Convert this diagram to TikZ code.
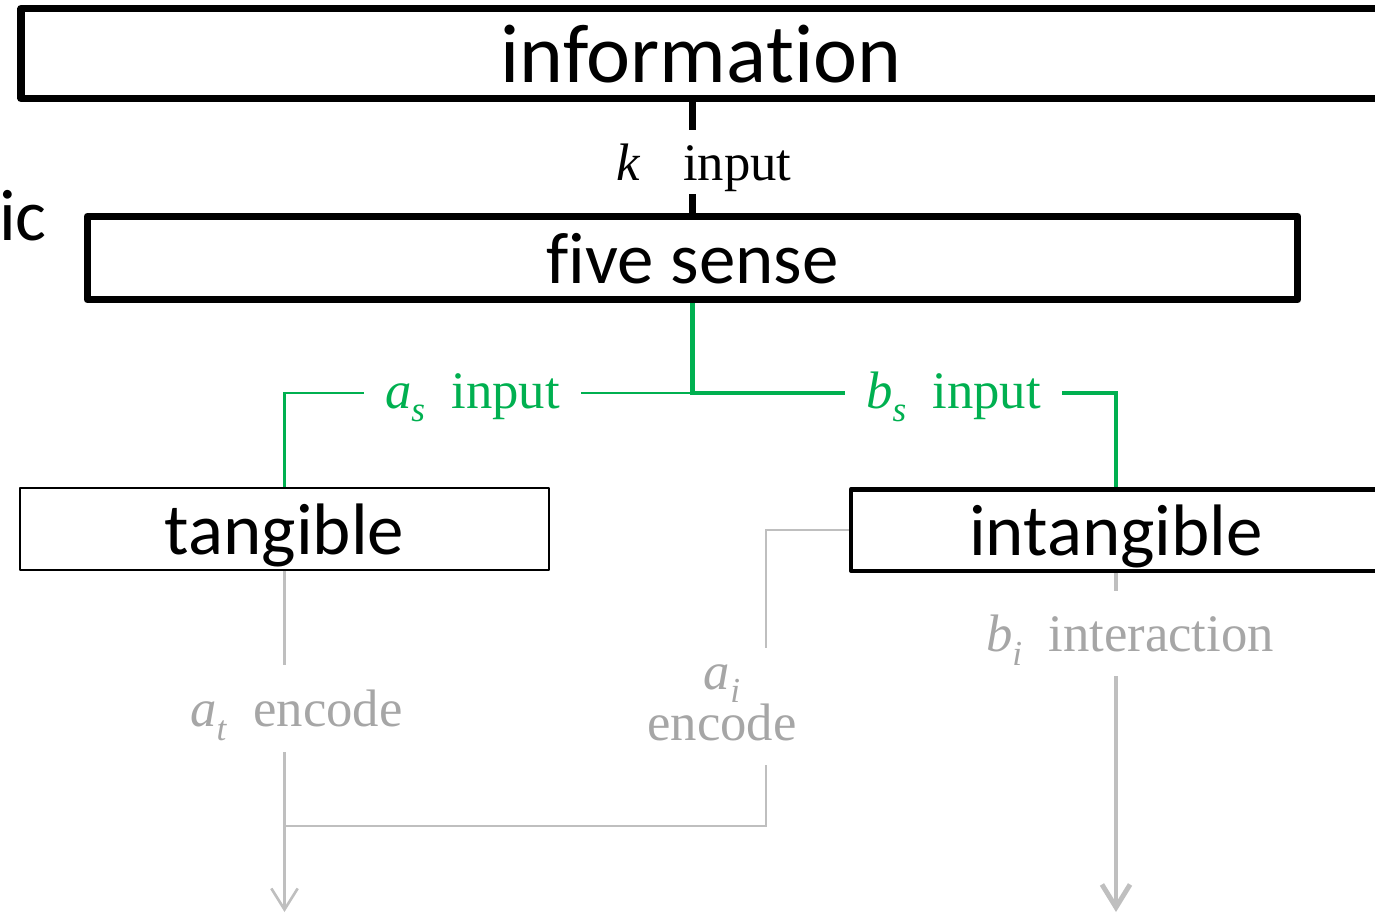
\documentclass[tikz,border=0pt]{standalone}
\usepackage{fontspec}
\setmainfont{Liberation Serif}
\newfontfamily\boxfont[Ligatures={NoCommon,NoRare,NoContextual}]{Carlito}
\usetikzlibrary{arrows.meta}
\definecolor{senseGreen}{HTML}{00B050}
\definecolor{lineGray}{HTML}{BFBFBF}
\definecolor{textGray}{HTML}{A6A6A6}
\newcommand\sbs[2]{\textit{#1}\raisebox{-0.26em}{\fontsize{20}{20}\selectfont\textit{#2}}}
\tikzset{
  sensebox/.style={draw, rectangle, line join=round, inner sep=0pt, text depth=0pt,
    font=\boxfont\fontsize{41.5}{41.5}\selectfont},
  lbl/.style={inner xsep=12pt, inner ysep=1.4pt, text height=27pt, text depth=6.6pt,
    font=\fontsize{30}{27}\selectfont},
  kline/.style={line width=3.6pt},
  gthin/.style={senseGreen, line width=1.3pt},
  gthick/.style={senseGreen, line width=2.6pt},
  gline/.style={lineGray, line width=1.5pt},
  gbold/.style={lineGray, line width=2.8pt},
  gtip/.style={-{Straight Barb[length=12pt,width=15pt]}},
  gtipbold/.style={-{Straight Barb[length=13pt,width=16pt]}}
}

\begin{document}
\begin{tikzpicture}[x=0.02cm,y=-0.02cm]
\useasboundingbox (0,0) rectangle (1375,914);

% boxes
\node [sensebox, line width=4.25pt, minimum width=27.2cm, minimum height=1.8cm,
  font=\boxfont\fontsize{47.5}{47.5}\selectfont] (info) at (701,53.5) {informa\kern0pt t\kern0pt ion};
\node [sensebox, line width=4pt, minimum width=24.22cm, minimum height=1.67cm] (five) at (692.5,258) {f\kern0pt ive sense};
\node [sensebox, line width=1.25pt, minimum width=10.58cm, minimum height=1.63cm] (tang) at (284.5,529) {tangible};
\node [sensebox, line width=2.55pt, minimum width=10.6cm, minimum height=1.63cm] (intan) at (1116,530) {intangible};
\node [anchor=base east, inner sep=0pt, font=\boxfont\fontsize{41.5}{41.5}\selectfont] (ic) at (47,240) {ic};

% labels
\node [lbl, anchor=base] (kin) at (704,180) {\textit{k}\hspace{0.8em}input};
\node [lbl, senseGreen, anchor=base] (asin) at (472.5,408) {\sbs{a}{s}\hspace{0.5em}input};
\node [lbl, senseGreen, anchor=base] (bsin) at (953.5,408) {\sbs{b}{s}\hspace{0.5em}input};
\node [lbl, textGray, anchor=base, inner ysep=7.8pt] (atin) at (296.5,726.7) {\sbs{a}{t}\hspace{0.5em}encode};
\node [lbl, textGray, anchor=base, inner ysep=7.3pt] (biin) at (1130,651.7) {\sbs{b}{i}\hspace{0.5em}interaction};
\node [lbl, textGray, anchor=base, inner ysep=6.2pt, text height=46pt, text depth=8.1pt] (aiin) at (722,740)
  {\begin{tabular}[b]{@{}c@{}}\sbs{a}{i}\\encode\end{tabular}};

\coordinate (split) at (692.5,393);
\coordinate (merge) at (766,826);
\coordinate (tout) at (284.5,912);
\coordinate (iout) at (1116,912);

% information to five sense
\draw [kline] (info.south -| five.north) -- (kin.north -| five.north);
\draw [kline] (kin.south -| five.north) -- (five.north);

% five sense to tangible / intangible
\draw [gthick, line join=miter] (five.south) -- (split) -- (bsin.west |- split);
\draw [gthick, line join=miter] (bsin.east |- split) -| (intan.north);
\draw [gthin] (split) -- (asin.east |- split);
\draw [gthin] (asin.west |- split) -| (tang.north);

% encode and interaction
\draw [gline] (tang.south) -- (tang.south |- atin.north);
\draw [gline, gtip] (tang.south |- atin.south) -- (tout);
\draw [gline] (intan.west) -| (merge |- aiin.north);
\draw [gline] (merge |- aiin.south) -- (merge) -- (tang.south |- merge);
\draw [gbold] (intan.south) -- (intan.south |- biin.north);
\draw [gbold, gtipbold] (intan.south |- biin.south) -- (iout);
\end{tikzpicture}
\end{document}
